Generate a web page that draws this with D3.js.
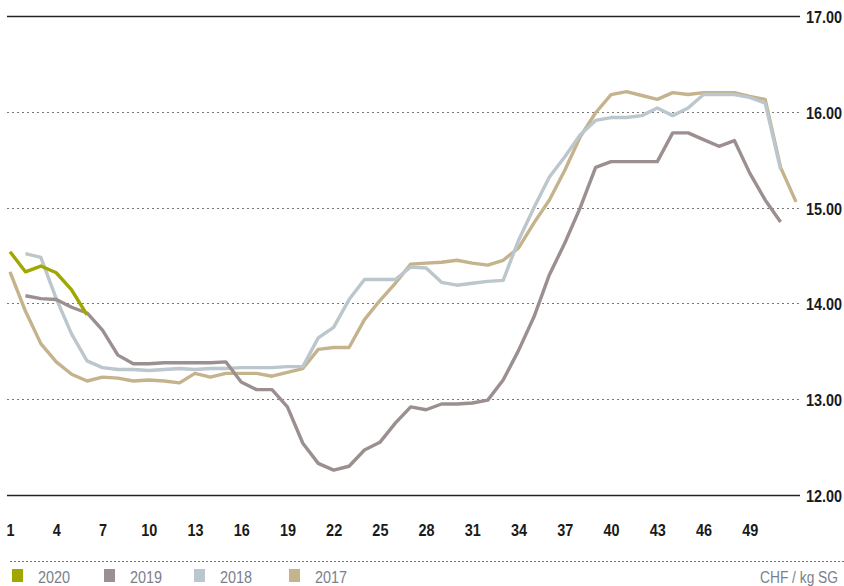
<!DOCTYPE html>
<html><head><meta charset="utf-8">
<script src="https://cdn.jsdelivr.net/npm/d3@7"></script>
<style>
html,body{margin:0;padding:0;background:#fff;}
svg{display:block;}
text{font-family:"Liberation Sans",Arial,sans-serif;}
</style></head>
<body><svg id="chart" width="844" height="586"></svg>
<script>
const weeks = d3.range(1, 53);
const xTickLabels = [1,4,7,10,13,16,19,22,25,28,31,34,37,40,43,46,49];
const yTickValues = [12,13,14,15,16,17];
const seriesNames = ["2020","2019","2018","2017"];
const seriesColors = ["#a0a800","#9b8f8f","#bcc6cd","#c4b38c"];
const unitLabel = "CHF / kg SG";

// values indexed by week 1..52 (null = no data)
const v2020 = [14.54,14.33,14.39,14.32,14.14,13.88];
const v2019 = [null,14.08,14.05,14.04,13.96,13.90,13.72,13.46,13.37,13.37,13.38,13.38,13.38,13.38,13.39,13.18,13.10,13.10,12.92,12.54,12.33,12.26,12.30,12.47,12.55,12.75,12.92,12.89,12.95,12.95,12.96,12.99,13.20,13.51,13.86,14.30,14.63,15.00,15.42,15.48,15.48,15.48,15.48,15.78,15.78,15.71,15.64,15.70,15.36,15.08,14.85];
const v2018 = [null,14.52,14.48,14.05,13.68,13.40,13.33,13.31,13.31,13.30,13.31,13.32,13.31,13.32,13.32,13.33,13.33,13.33,13.34,13.34,13.64,13.75,14.04,14.25,14.25,14.25,14.38,14.37,14.22,14.19,14.21,14.23,14.24,14.66,15.00,15.32,15.53,15.76,15.91,15.94,15.94,15.96,16.04,15.96,16.04,16.18,16.18,16.18,16.15,16.09,15.40];
const v2017 = [14.33,13.92,13.58,13.39,13.26,13.19,13.23,13.22,13.19,13.20,13.19,13.17,13.27,13.23,13.27,13.27,13.27,13.24,13.28,13.32,13.52,13.54,13.54,13.83,14.03,14.21,14.41,14.42,14.43,14.45,14.42,14.40,14.45,14.58,14.84,15.08,15.39,15.74,15.99,16.18,16.21,16.17,16.13,16.20,16.18,16.20,16.20,16.20,16.16,16.13,15.42,15.06];

const svg = d3.select("#chart");
const x = d3.scaleLinear().domain([1,52]).range([10,796]);
const y = d3.scaleLinear().domain([12,17]).range([495,16]);
const gridLeft = 7, gridRight = 800;

// grid lines
const grid = svg.append("g");
grid.selectAll("line").data(yTickValues).join("line")
  .attr("x1", gridLeft).attr("x2", gridRight)
  .attr("y1", d => Math.round(y(d)) + 0.5).attr("y2", d => Math.round(y(d)) + 0.5)
  .attr("stroke", d => (d === 12 || d === 17) ? "#222" : "#777")
  .attr("stroke-width", d => (d === 12 || d === 17) ? 1.5 : 1.2)
  .attr("stroke-dasharray", d => (d === 12 || d === 17) ? null : "2,3");

// right axis
const yAxis = d3.axisRight(y).tickValues(yTickValues).tickFormat(d3.format(".2f")).tickSize(0).tickPadding(0);
const gy = svg.append("g").attr("transform", `translate(806,0)`).call(yAxis);
gy.select(".domain").remove();
gy.selectAll("text").attr("font-size", 17).attr("font-weight", "bold").attr("fill", "#1a1a1a")
  .attr("x", 0).attr("dy", "0.38em").attr("transform", "scale(0.85,1)");

// bottom axis labels
const xAxis = d3.axisBottom(x).tickValues(xTickLabels).tickSize(0).tickPadding(0);
const gx = svg.append("g").attr("transform", `translate(0,536)`).call(xAxis);
gx.select(".domain").remove();
gx.selectAll("text").attr("font-size", 17).attr("font-weight", "bold").attr("fill", "#1a1a1a")
  .attr("y", 0).attr("dy", 0).attr("transform", "scale(0.85,1)");

// lines
const line = d3.line().defined(d => d.v != null).x(d => x(d.w)).y(d => y(d.v));
const seriesVals = [v2020, v2019, v2018, v2017];
const order = [3,2,1,0];
order.forEach(i => {
  const data = seriesVals[i].map((v, k) => ({w: weeks[k], v}));
  svg.append("path").datum(data)
    .attr("fill", "none").attr("stroke", seriesColors[i])
    .attr("stroke-width", 3.4).attr("stroke-linejoin", "round").attr("stroke-linecap", "butt")
    .attr("d", line);
});

// legend
svg.append("line").attr("x1", 10).attr("x2", 844).attr("y1", 561.5).attr("y2", 561.5)
  .attr("stroke", "#777").attr("stroke-width", 1.2).attr("stroke-dasharray", "2,2");
const legendX = [12, 104, 194, 289];
const lg = svg.append("g");
seriesNames.forEach((n, i) => {
  lg.append("rect").attr("x", legendX[i]).attr("y", 569).attr("width", 11).attr("height", 13).attr("fill", seriesColors[i]);
  lg.append("g").attr("transform", `translate(${legendX[i] + 26},583)`)
    .append("text").attr("font-size", 17).attr("fill", "#7b7f8b").attr("transform", "scale(0.85,1)").text(n);
});
svg.append("g").attr("transform", "translate(838,583)")
  .append("text").attr("text-anchor", "end").attr("font-size", 17).attr("fill", "#7b7f8b")
  .attr("transform", "scale(0.81,1)").text(unitLabel);
</script></body></html>
